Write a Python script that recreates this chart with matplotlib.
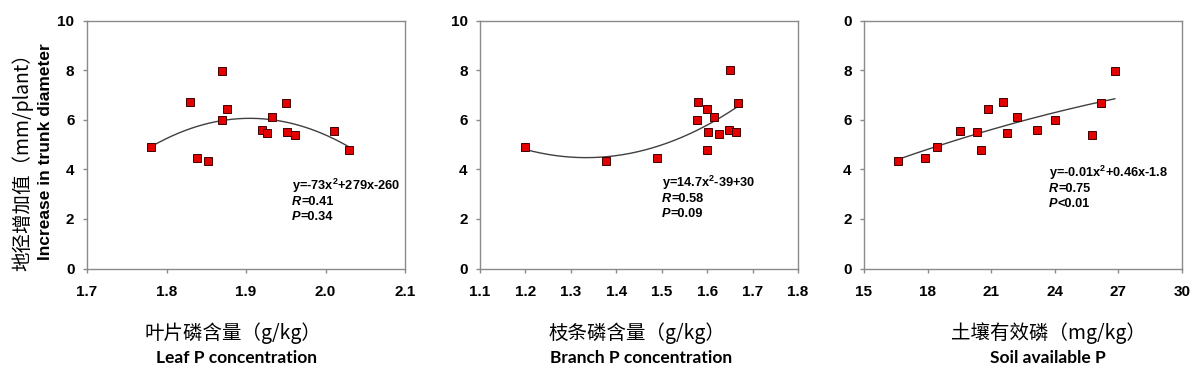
import numpy as np
import matplotlib
matplotlib.use("Agg")
import matplotlib.pyplot as plt

# data
leaf_p = [1.780, 1.830, 1.838, 1.852, 1.870, 1.870, 1.876, 1.920, 1.927, 1.933, 1.950, 1.952, 1.962, 2.011, 2.030]
leaf_y = [4.91, 6.71, 4.44, 4.33, 7.98, 5.99, 6.42, 5.59, 5.46, 6.10, 6.67, 5.51, 5.40, 5.54, 4.80]

branch_p = [1.200, 1.378, 1.490, 1.579, 1.578, 1.600, 1.614, 1.601, 1.599, 1.627, 1.650, 1.649, 1.663, 1.669]
branch_y = [4.89, 4.35, 4.46, 6.71, 5.99, 6.42, 6.10, 5.50, 4.80, 5.43, 7.99, 5.59, 5.52, 6.67]

soil_p = [16.59, 17.90, 18.46, 19.52, 20.35, 20.53, 20.84, 21.55, 21.76, 22.21, 23.14, 24.01, 25.76, 26.17, 26.83]
soil_y = [4.33, 4.44, 4.91, 5.54, 5.51, 4.80, 6.42, 6.71, 5.46, 6.10, 5.59, 5.99, 5.40, 6.67, 7.98]

y_ticks = [0, 2, 4, 6, 8, 10]
y_labels_3 = ["0", "2", "4", "6", "8", "0"]

leaf_xticks = [1.7, 1.8, 1.9, 2.0, 2.1]
branch_xticks = [1.1, 1.2, 1.3, 1.4, 1.5, 1.6, 1.7, 1.8]
soil_xticks = [15, 18, 21, 24, 27, 30]

eq_text = [
    ["y=-73x$^2$+279x-260", "R", "=0.41", "P", "=0.34"],
    ["y=14.7x$^2$-39+30", "R", "=0.58", "P", "=0.09"],
    ["y=-0.01x$^2$+0.46x-1.8", "R", "=0.75", "P", "<0.01"],
]
cn_labels = ["叶片磷含量（g/kg）", "枝条磷含量（g/kg）", "土壤有效磷（mg/kg）"]
en_labels = ["Leaf P concentration", "Branch P concentration", "Soil available P"]

plt.rcParams['mathtext.default'] = 'regular'
fig = plt.figure(figsize=(12, 3.74), dpi=100)

lefts = [0.0725, 0.40, 0.72]
xdata = [leaf_p, branch_p, soil_p]
ydata = [leaf_y, branch_y, soil_y]
xticks = [leaf_xticks, branch_xticks, soil_xticks]
eq_pos = [(292, 186), (662, 183), (1049, 173)]
cn_pos = [233, 637, 1048]
en_pos = [237, 641, 1048]

for i in range(3):
    ax = fig.add_axes([lefts[i], 0.282, 0.265, 0.663])
    x = np.array(xdata[i])
    y = np.array(ydata[i])
    c = np.polyfit(x, y, 2)  # excel style 2nd order trend line
    xs = np.linspace(x.min(), x.max(), 200)
    ax.plot(xs, np.polyval(c, xs), color='#404040', lw=1.0, zorder=2)
    ax.plot(x, y, 's', ms=6.3, mfc='#e30000', mec='#400000', mew=0.7, zorder=3)
    ax.set_xlim(xticks[i][0], xticks[i][-1])
    ax.set_ylim(0, 10)
    ax.set_xticks(xticks[i])
    ax.set_yticks(y_ticks)
    if i == 2:
        ax.set_yticklabels(y_labels_3)
    for sp in ax.spines.values():
        sp.set_color('#8a8a8a')
        sp.set_linewidth(1.0)
    ax.tick_params(direction='out', length=3, width=1, color='#8a8a8a', pad=6)
    for lab in ax.get_xticklabels() + ax.get_yticklabels():
        lab.set_fontfamily('Liberation Sans')
        lab.set_fontweight('bold')
        lab.set_fontsize(11)
    ax.tick_params(axis='x', pad=9)

    ex, ey = eq_pos[i]
    t = eq_text[i]
    kw = dict(fontsize=9.2, fontweight='bold', family='Liberation Sans', va='center', ha='left')
    fig.text(ex / 1200, 1 - ey / 374, t[0], **kw)
    for j, (sym, val) in enumerate([(t[1], t[2]), (t[3], t[4])]):
        yy = 1 - (ey + 15.5 * (j + 1)) / 374
        txt = fig.text(ex / 1200, yy, sym, style='italic', **kw)
        fig.canvas.draw()
        bb = txt.get_window_extent()
        fig.text(bb.x1 / 1200, yy, val, **kw)

    fig.text(cn_pos[i] / 1200, 1 - 333 / 374, cn_labels[i], ha='center', va='center',
             fontsize=14, family=['Noto Sans CJK SC', 'DejaVu Sans'])
    fig.text(en_pos[i] / 1200, 1 - 358 / 374, en_labels[i], ha='center', va='center',
             fontsize=12.5, fontweight='bold', family='Lato')

fig.text(23 / 1200, 1 - 157 / 374, "地径增加值（mm/plant）", rotation=90, ha='center', va='center',
         fontsize=14, family=['Noto Sans CJK SC', 'DejaVu Sans'])
fig.text(46 / 1200, 1 - 152 / 374, "Increase in trunk diameter", rotation=90, ha='center', va='center',
         fontsize=12.5, fontweight='bold', family='Liberation Sans')

fig.savefig("out.png", dpi=100)
